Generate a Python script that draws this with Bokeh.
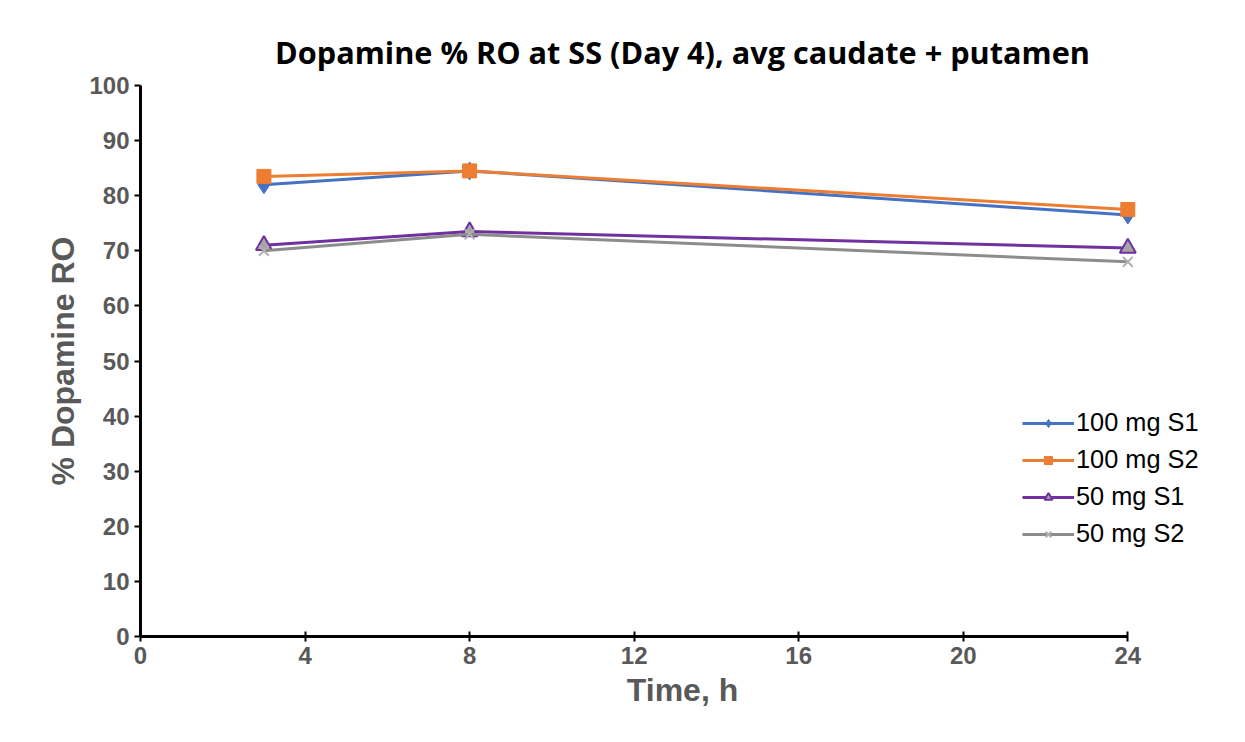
from bokeh.plotting import figure
from bokeh.models import Legend, LegendItem, FixedTicker, Range1d
from bokeh.embed import file_html
from bokeh.resources import INLINE

# data
hours = [3, 8, 24]
s100_1 = [82, 84.5, 76.5]
s100_2 = [83.5, 84.5, 77.5]
s50_1 = [71, 73.5, 70.5]
s50_2 = [70, 73, 68]

p = figure(width=1229, height=726, output_backend="svg", toolbar_location=None,
           x_range=Range1d(0, 26.35), y_range=Range1d(0, 100),
           title="Dopamine % RO at SS (Day 4), avg caudate + putamen",
           x_axis_label="Time, h", y_axis_label="% Dopamine RO")
p.min_border_left = 140
p.min_border_right = 5
p.min_border_top = 85
p.min_border_bottom = 90
p.outline_line_color = None
p.grid.visible = False

p.title.align = "center"
p.title.text_font = "Open Sans"
p.title.text_font_size = "23pt"
p.title.text_font_style = "bold"
p.title.text_color = "black"
p.title.offset = -12
p.title.standoff = 25

for ax in (p.xaxis, p.yaxis):
    ax.axis_line_width = 3
    ax.axis_line_color = "black"
    ax.major_tick_line_width = 2
    ax.major_tick_line_color = "black"
    ax.minor_tick_line_color = None
    ax.major_label_text_font = "Liberation Sans"
    ax.major_label_text_font_size = "18pt"
    ax.major_label_text_font_style = "bold"
    ax.major_label_text_color = "#595959"
    ax.axis_label_text_font = "Liberation Sans"
    ax.axis_label_text_font_size = "24pt"
    ax.axis_label_text_font_style = "bold"
    ax.axis_label_text_color = "#595959"
p.xaxis.bounds = (0, 24)
p.xaxis.ticker = FixedTicker(ticks=[0, 4, 8, 12, 16, 20, 24])
p.yaxis.ticker = FixedTicker(ticks=list(range(0, 101, 10)))
p.xaxis.major_tick_in = 5
p.xaxis.major_tick_out = 5
p.yaxis.major_tick_in = 0
p.yaxis.major_tick_out = 6

blue, orange, purple, grey = "#4472c4", "#ed7d31", "#7030a0", "#8c8c8c"

l1 = p.line(hours, s100_1, color=blue, line_width=3)
m1 = p.scatter(hours, s100_1, marker="diamond", size=18, color=blue)
l2 = p.line(hours, s100_2, color=orange, line_width=3)
m2 = p.scatter(hours, s100_2, marker="square", size=14, color=orange)
l3 = p.line(hours, s50_1, color=purple, line_width=3)
m3 = p.scatter(hours, s50_1, marker="triangle", size=16, fill_color="#a6a6a6",
               line_color=purple, line_width=2)
l4 = p.line(hours, s50_2, color=grey, line_width=3)
m4 = p.scatter(hours, s50_2, marker="x", size=14, line_color="#b0b0b0", line_width=2)

legend = Legend(items=[
    LegendItem(label="100 mg S1", renderers=[l1, m1]),
    LegendItem(label="100 mg S2", renderers=[l2, m2]),
    LegendItem(label="50 mg S1", renderers=[l3, m3]),
    LegendItem(label="50 mg S2", renderers=[l4, m4]),
], location=(882, 88))
legend.background_fill_alpha = 0
legend.border_line_color = None
legend.label_text_font = "Liberation Sans"
legend.label_text_font_size = "19pt"
legend.label_text_color = "black"
legend.glyph_width = 52
legend.spacing = 8
legend.label_standoff = 2
p.add_layout(legend, "center")

open("out.html", "w").write(file_html(p, INLINE))
